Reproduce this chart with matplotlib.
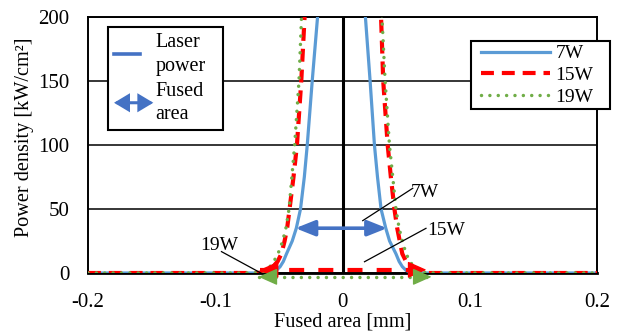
import matplotlib
matplotlib.use("Agg")
import matplotlib.pyplot as plt
from matplotlib.lines import Line2D
from matplotlib.patches import FancyArrowPatch
from matplotlib.legend_handler import HandlerBase, HandlerLine2D

plt.rcParams['font.family'] = ['Liberation Serif', 'DejaVu Serif']

# ---------------- data ----------------
x_7w = [-0.2, -0.062, -0.056, -0.052, -0.049, -0.0465, -0.044, -0.0395, -0.0363, -0.033, -0.030,
        -0.0277, -0.0238, -0.0196, -0.016, -0.001, 0.0145, 0.018, 0.0217, 0.0251, 0.0275, 0.0303,
        0.034, 0.037, 0.042, 0.0445, 0.047, 0.050, 0.054, 0.060, 0.2]
y_7w = [0, 0, 0.5, 2, 5, 9, 15, 25, 35, 50, 75,
        100, 150, 200, 260, 480, 260, 200, 150, 100, 75, 50,
        35, 25, 15, 9, 5, 2, 0.5, 0, 0]

x_15w = [-0.2, -0.068, -0.062, -0.058, -0.0545, -0.051, -0.048, -0.0455, -0.0435, -0.0416, -0.0385,
         -0.0358, -0.0324, -0.0298, -0.027, 0.0, 0.0275, 0.0303, 0.032, 0.0355, 0.038, 0.0408,
         0.043, 0.045, 0.047, 0.050, 0.053, 0.057, 0.061, 0.067, 0.2]
y_15w = [0, 0, 0.5, 2, 5, 9, 15, 25, 35, 50, 75,
         100, 150, 200, 260, 850, 260, 200, 150, 100, 75, 50,
         35, 25, 15, 9, 5, 2, 0.5, 0, 0]

x_19w = [-0.2, -0.070, -0.065, -0.061, -0.057, -0.054, -0.0507, -0.047, -0.0445, -0.042, -0.0398,
         -0.0376, -0.0342, -0.0322, -0.029, 0.0, 0.0285, 0.031, 0.0335, 0.0369, 0.0395, 0.042,
         0.0445, 0.047, 0.050, 0.053, 0.056, 0.059, 0.063, 0.069, 0.2]
y_19w = [0, 0, 0.5, 2, 5, 9, 15, 25, 35, 50, 75,
         100, 150, 200, 260, 900, 260, 200, 150, 100, 75, 50,
         35, 25, 15, 9, 5, 2, 0.5, 0, 0]

series_labels = ["7W", "15W", "19W"]

# fused-area double arrows: [7W, 15W, 19W]
fused_left = [-0.037, -0.065, -0.066]
fused_right = [0.035, 0.066, 0.070]
fused_level = [35, 2.5, -3]

# callout labels: text, text anchor (x, baseline y), leader start, leader end
callout_text = ["7W", "15W", "19W"]
callout_pos = [(0.054, 59.4), (0.0669, 29.7), (-0.1122, 18.0)]
callout_from = [(0.0159, 40.9), (0.0173, 8.8), (-0.0638, -0.2)]
callout_to = [(0.0552, 66.2), (0.0656, 34.9), (-0.0951, 16.7)]

x_ticks = [-0.2, -0.1, 0, 0.1, 0.2]
x_tick_labels = ["-0.2", "-0.1", "0", "0.1", "0.2"]
y_ticks = [0, 50, 100, 150, 200]

# ---------------- style ----------------
C_BLUE = '#5B9BD5'
C_RED = '#FF0000'
C_GREEN = '#70AD47'
C_ARROW = '#4472C4'

W, H = 622, 336
fig = plt.figure(figsize=(W / 100, H / 100), dpi=100)
AX_L, AX_R, AX_T, AX_B = 88, 597, 17, 273
ax = fig.add_axes([AX_L / W, 1 - AX_B / H, (AX_R - AX_L) / W, (AX_B - AX_T) / H])


def ax_frac(px, py):
    return ((px - AX_L) / (AX_R - AX_L), (AX_B - py) / (AX_B - AX_T))


ax.set_xlim(-0.2, 0.2)
ax.set_ylim(0, 200)
ax.set_xticks(x_ticks)
ax.set_xticklabels(x_tick_labels)
ax.set_yticks(y_ticks)
ax.tick_params(axis='both', length=0, labelsize=15)
ax.tick_params(axis='x', pad=14.5)
ax.tick_params(axis='y', pad=13.5)
ax.yaxis.grid(True, color='black', lw=1.1)
for s in ax.spines.values():
    s.set_color('black')
    s.set_linewidth(1.4)
ax.spines['bottom'].set_linewidth(2.0)
ax.axvline(0, color='black', lw=2.2, zorder=2)

l7, = ax.plot(x_7w, y_7w, color=C_BLUE, lw=2.3, zorder=3, label=series_labels[0])
l15, = ax.plot(x_15w, y_15w, color=C_RED, lw=3.0, dashes=(3.1, 1.9), zorder=4, label=series_labels[1])
l19, = ax.plot(x_19w, y_19w, color=C_GREEN, lw=2.5, linestyle=(0, (0.01, 2.4)),
               dash_capstyle='round', zorder=5, label=series_labels[2])

# fused-area arrows
ax.annotate('', xy=(fused_right[0], fused_level[0]), xytext=(fused_left[0], fused_level[0]),
            arrowprops=dict(arrowstyle='<|-|>,head_length=0.45,head_width=0.18', mutation_scale=26,
                            color=C_ARROW, lw=2.6, shrinkA=0, shrinkB=0), zorder=6)

body_styles = [None, dict(color=C_RED, lw=3.0, dashes=(3.6, 3.4)),
               dict(color=C_GREEN, lw=2.5, linestyle=(0, (0.01, 2.4)), dash_capstyle='round')]
head_colors = [None, C_RED, C_GREEN]
for i in (1, 2):
    ax.plot([fused_left[i], fused_right[i]], [fused_level[i], fused_level[i]],
            clip_on=False, zorder=6, **body_styles[i])
    for end, start in ((fused_left[i], fused_left[i] + 0.01), (fused_right[i], fused_right[i] - 0.01)):
        ax.annotate('', xy=(end, fused_level[i]), xytext=(start, fused_level[i]),
                    arrowprops=dict(arrowstyle='-|>,head_length=0.45,head_width=0.2', mutation_scale=26,
                                    color=head_colors[i], lw=1.0, shrinkA=0, shrinkB=0),
                    annotation_clip=False, zorder=7)

# callouts
for t, p, a, b in zip(callout_text, callout_pos, callout_from, callout_to):
    ax.plot([a[0], b[0]], [a[1], b[1]], color='black', lw=0.9, zorder=8, clip_on=False)
    ax.text(p[0], p[1], t, fontsize=14, ha='left', va='baseline', zorder=8)

ax.set_xlabel("Fused area [mm]", fontsize=14.6, labelpad=0.5)
fig.text(24 / W, 1 - 137.5 / H, "Power density [kW/cm²]", rotation=90, fontsize=14.6,
         ha='center', va='center')


# ---------------- legends ----------------
class ShortLineHandler(HandlerBase):
    def create_artists(self, legend, orig_handle, xdescent, ydescent, width, height, fontsize, trans):
        y = height / 2 - ydescent
        ln = Line2D([-xdescent, -xdescent + 0.66 * width], [y, y], color=C_ARROW, lw=2.6, transform=trans)
        return [ln]


class DoubleArrowHandler(HandlerBase):
    def create_artists(self, legend, orig_handle, xdescent, ydescent, width, height, fontsize, trans):
        y = height / 2 - ydescent
        a = FancyArrowPatch((-xdescent, y), (-xdescent + width, y),
                            arrowstyle='<|-|>,head_length=0.55,head_width=0.33', mutation_scale=15,
                            color=C_ARROW, lw=2.2, shrinkA=0, shrinkB=0, joinstyle='miter',
                            transform=trans)
        return [a]


h_laser = Line2D([], [])
h_fused = Line2D([], [], marker='x')
x0, y0 = ax_frac(108, 27)
x1, _ = ax_frac(223, 27)
leg1 = ax.legend([h_laser, h_fused], ["Laser\npower", "Fused\narea"],
                 handler_map={h_laser: ShortLineHandler(), h_fused: DoubleArrowHandler()},
                 loc='upper left', bbox_to_anchor=(x0, y0 - 0.5, x1 - x0, 0.5), mode='expand',
                 borderaxespad=0, fontsize=14.5, frameon=True, fancybox=False, edgecolor='black',
                 framealpha=1, handlelength=1.95, handletextpad=0.1, labelspacing=0.3, borderpad=0.3)
for t in leg1.get_texts():
    t.set_linespacing(1.32)
leg1.get_frame().set_linewidth(1.5)
leg1.set_zorder(10)
ax.add_artist(leg1)

x0, y0 = ax_frac(471, 41)
x1, _ = ax_frac(610, 41)
fs2 = 14
leg2 = ax.legend(handles=[l7, l15, l19], loc='upper left',
                 bbox_to_anchor=(x0, y0 - 0.5, x1 - x0, 0.5), mode='expand', borderaxespad=0,
                 handler_map={Line2D: HandlerLine2D(xpad=0.3)},
                 fontsize=fs2, frameon=True, fancybox=False, edgecolor='black', framealpha=1,
                 handlelength=3.85, handletextpad=0.3, labelspacing=0.2, borderpad=0.2)
leg2.get_frame().set_linewidth(1.5)
leg2.set_zorder(10)

fig.savefig("out.png", dpi=100)
